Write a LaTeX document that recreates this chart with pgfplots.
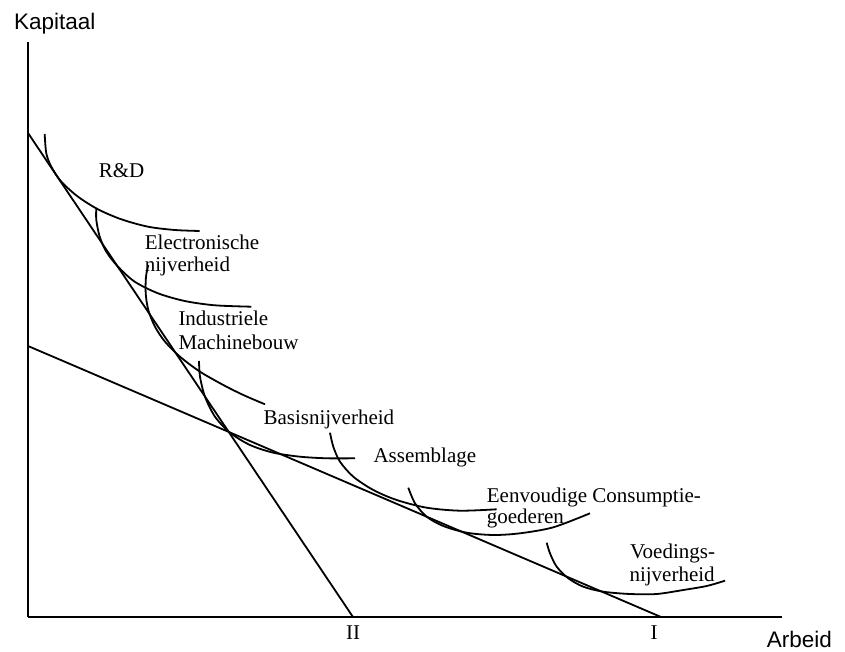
\documentclass[border=0pt]{standalone}
\usepackage{pgfplots}
\pgfplotsset{compat=1.18}
\usepackage{fontspec}
\setmainfont{Liberation Serif}
\newfontfamily\sansf{Liberation Sans}
\begin{document}
\begin{tikzpicture}
\tikzset{ln/.style={black, solid, line width=1.8pt, mark=none}}
\begin{axis}[
  width=754pt, height=575pt, scale only axis,
  xmin=0, xmax=754, ymin=0, ymax=575,
  axis lines=left,
  axis line style={-, line width=1.8pt, black},
  xtick=\empty, ytick=\empty,
  clip=false,
]
\coordinate (o) at (axis cs:0,0);
% budget lines
\addplot[ln] coordinates {(0,484) (325,0)};
\addplot[ln] coordinates {(0,271) (633,0)};
% isoquants
\addplot[ln, smooth] coordinates {(16.7,483) (18.3,463.7) (23.3,450.3) (33.3,435.3) (50,420.3) (70,407.7) (93.3,397.7) (120,390.3) (146.7,387) (171.7,386)};
\addplot[ln, smooth] coordinates {(68.3,408.7) (68.3,397) (71.7,380.3) (78.3,365.3) (90,350.3) (106.7,335.3) (130,323.7) (156.7,316) (186.7,311.7) (223.3,310.3)};
\addplot[ln, smooth] coordinates {(120.3,352) (118,340.3) (117.7,323.7) (120.3,307) (127,290.3) (137,275.3) (152,260.3) (172,245.3) (195.3,232) (215.3,222) (237,212.7)};
\addplot[ln, smooth] coordinates {(171,256) (172,240.3) (177,220.3) (187,200.3) (202,184.3) (222,172) (245.3,164.3) (272,160.3) (298.7,158.7) (327,158.7)};
\addplot[ln, smooth] coordinates {(302,184.3) (305.3,170.3) (312,155.3) (325.3,140.3) (345.3,127) (368.7,117) (398.7,109.3) (432,106.3) (468.7,107.7)};
\addplot[ln, smooth] coordinates {(380.3,129.3) (387,113.7) (398.7,100.3) (415.3,91) (438.7,84.3) (465.3,82) (492,83.7) (525.3,89.7) (562,103.7)};
\addplot[ln, smooth] coordinates {(518.7,74.3) (522,63.7) (528.7,50.3) (540.3,38.7) (555.3,30.3) (575.3,25.3) (602,23) (628.7,23) (655.3,27) (678.7,31) (697,36.3)};
% labels
\begin{scope}[every node/.style={inner sep=0pt, anchor=base west, font=\fontsize{21}{22}\selectfont}]
\node at (axis cs:70.7,439.7) {R\&D};
\node at (axis cs:116.7,367) {Electronische};
\node at (axis cs:116.7,345.3) {nijverheid};
\node at (axis cs:150.3,291) {Industriele};
\node at (axis cs:150.3,267.7) {Machinebouw};
\node at (axis cs:235.3,192.7) {Basisnijverheid};
\node at (axis cs:345.3,154.3) {Assemblage};
\node at (axis cs:458.7,114.3) {Eenvoudige Consumptie-};
\node at (axis cs:458.7,93) {goederen};
\node at (axis cs:602,58.7) {Voedings-};
\node at (axis cs:601.3,35.3) {nijverheid};
\node[anchor=base] at (axis cs:325,-22.3) {II};
\node[anchor=base] at (axis cs:626,-22.3) {I};
\end{scope}
\node[inner sep=0pt, anchor=base west, font=\sansf\fontsize{22.5}{24}\selectfont] at (axis cs:-14,587.7) {Kapitaal};
\node[inner sep=0pt, anchor=base west, font=\sansf\fontsize{22.5}{24}\selectfont] at (axis cs:738.7,-31) {Arbeid};
\end{axis}
\pgfresetboundingbox
\path[use as bounding box] ([shift={(-28pt,-35pt)}]o) rectangle ([shift={(817pt,617pt)}]o);
\end{tikzpicture}
\end{document}
